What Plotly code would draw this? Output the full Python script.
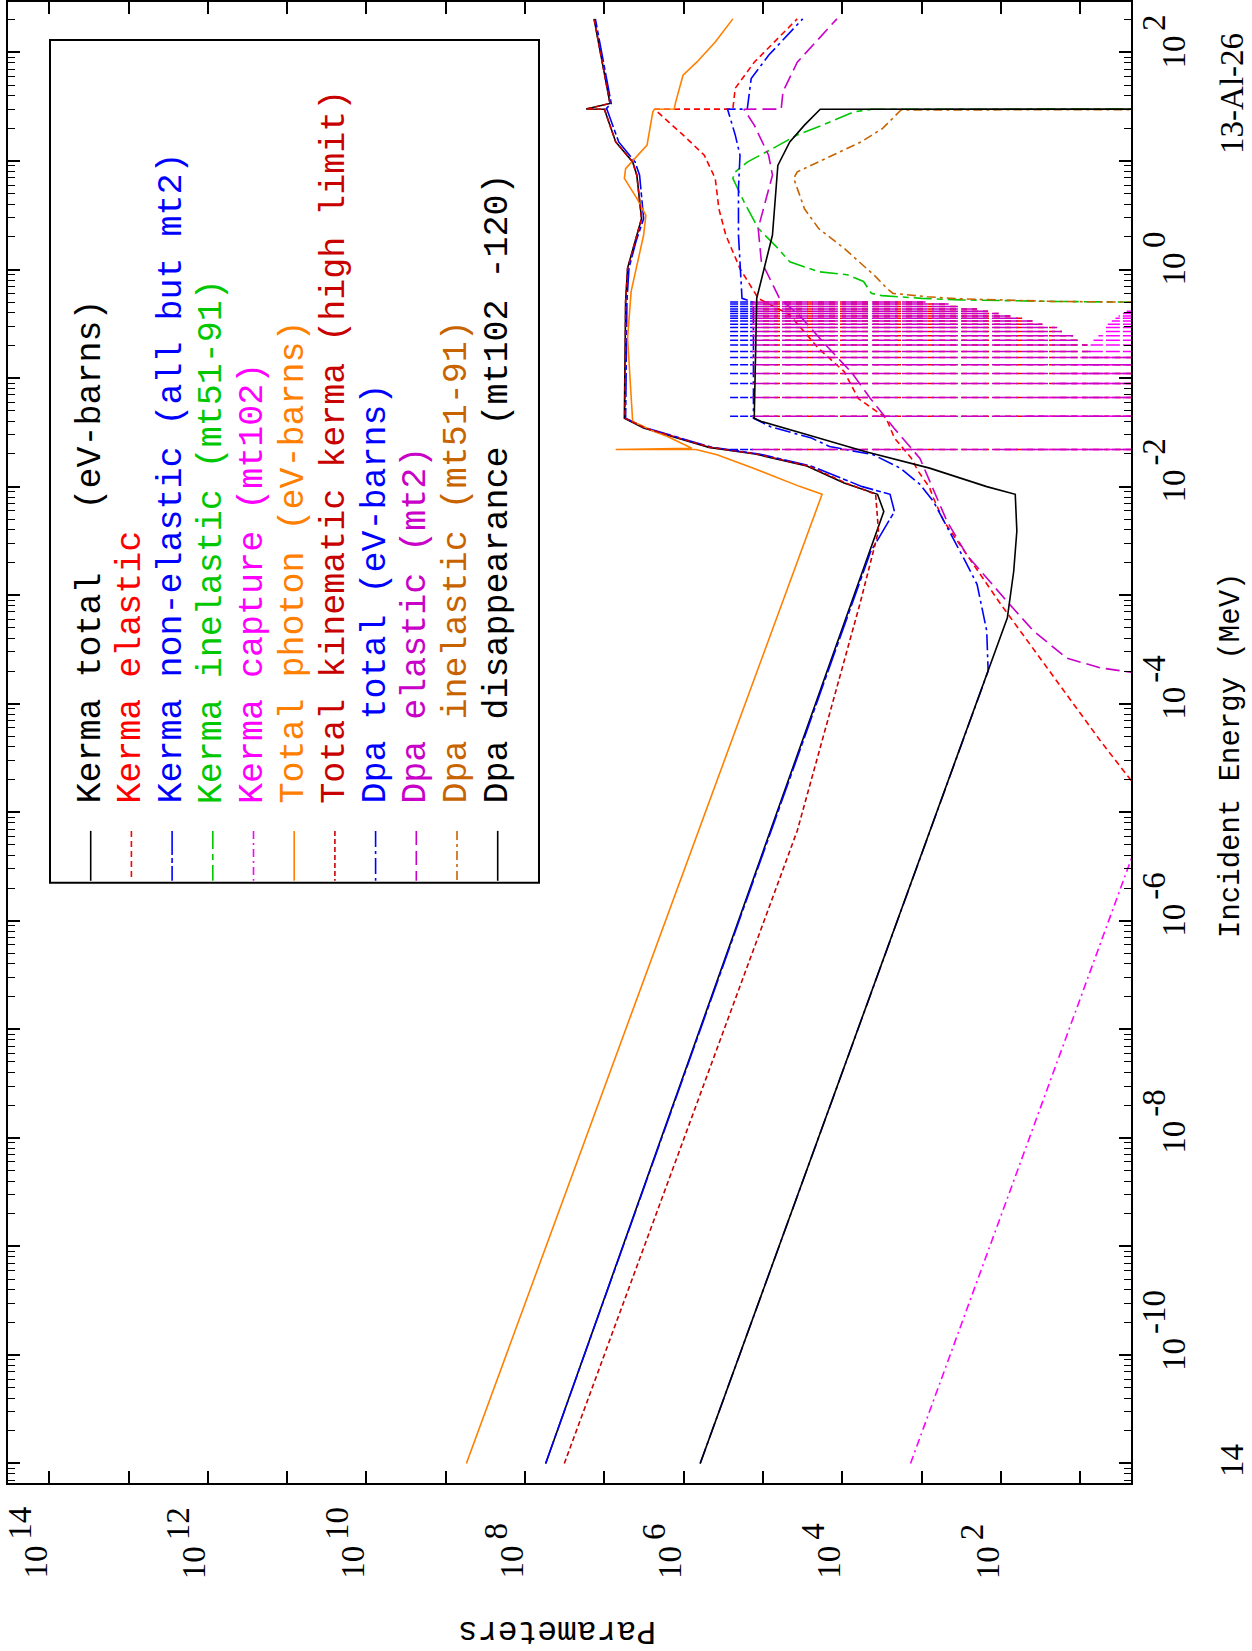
import plotly.graph_objects as go

# ---------------- data (energy in MeV, parameter values) ----------------
E_kerma_total = [1e-11, 5.9e-3, 8.5e-3, 1.08e-2, 1.55e-2, 2.0e-2, 2.3e-2, 3.47e-2, 4.27e-2, 0.507, 1.03, 1.81, 2.95, 7.4, 9.8, 15.0, 30.0, 30.1, 33.9, 204]
V_kerma_total = [5.5e7, 3.0e3, 3.6e3, 9.5e3, 2.8e4, 1.26e5, 4.8e5, 3.2e6, 5.6e6, 5.4e6, 5.1e6, 4.1e6, 3.4e6, 3.9e6, 4.4e6, 7.2e6, 1.0e7, 1.7e7, 8.5e6, 1.35e7]

E_kerma_elastic = [1e-5, 4.57e-5, 8.2e-4, 4.8e-3, 7.85e-3, 9.8e-3, 1.38e-2, 1.83e-2, 2.8e-2, 4.27e-2, 6.5e-2, 0.115, 0.188, 0.382, 0.543, 1.02, 2.08, 3.63, 6.9, 11.3, 17.4, 30.0, 30.1, 46.8, 81.3, 204]
V_kerma_elastic = [1.12, 5.6, 100, 525, 710, 794, 1.1e3, 1.35e3, 2.2e3, 2.8e3, 6.3e3, 9.5e3, 2.0e4, 4.6e4, 1.15e5, 1.95e5, 2.95e5, 3.6e5, 4.0e5, 5.5e5, 1.02e6, 2.34e6, 2.4e5, 2.24e5, 1.29e5, 3.7e4]

E_kerma_nonel = [1e-11, 2.51e-3, 5.9e-3, 8.5e-3, 1.0e-2, 1.55e-2, 2.0e-2, 2.3e-2, 3.47e-2, 4.27e-2, 0.507, 1.03, 1.81, 2.95, 7.4, 9.8, 15.0, 30.0, 30.1, 33.9, 204]
V_kerma_nonel = [5.5e7, 4.4e3, 2.2e3, 2.5e3, 5.6e3, 2.5e4, 1.12e5, 4.4e5, 3.0e6, 5.4e6, 5.2e6, 4.9e6, 4.0e6, 3.2e6, 3.6e6, 4.1e6, 6.6e6, 9.3e6, 9.6e6, 8.2e6, 1.3e7]

E_kerma_inel = [0.501, 0.508, 0.525, 0.543, 0.575, 0.603, 0.776, 0.897, 0.955, 1.18, 1.57, 2.40, 4.22, 6.92, 7.94, 9.77, 13.0, 17.4, 21.4, 28.4, 30.0, 30.1]
V_kerma_inel = [2.0, 20, 316, 1.0e3, 3.16e3, 4.3e3, 5.4e3, 8.7e3, 2.0e4, 4.6e4, 6.5e4, 1.15e5, 1.74e5, 2.4e5, 2.24e5, 1.58e5, 7.6e4, 3.7e4, 1.78e4, 7.1e3, 4.2e3, 1e-3]

E_kerma_capture = [1e-11, 3.16e-5]
V_kerma_capture = [1.38e3, 0.78]

E_photon = [1e-11, 8.5e-3, 1.0e-2, 1.48e-2, 1.97e-2, 2.16e-2, 2.20e-2, 2.20e-2, 2.26e-2, 2.9e-2, 3.24e-2, 3.98e-2, 6.5e-2, 0.233, 0.63, 2.08, 3.16, 4.52, 6.92, 8.51, 14.0, 28.4, 30.0, 30.1, 35.1, 61.7, 81.8, 125, 204]
V_photon = [5.5e8, 1.8e4, 3.4e4, 1.32e5, 3.8e5, 6.8e5, 7.0e5, 7.2e6, 7.9e5, 1.6e6, 2.4e6, 4.4e6, 4.6e6, 5.1e6, 4.6e6, 3.2e6, 3.0e6, 3.9e6, 5.6e6, 5.4e6, 2.9e6, 2.45e6, 2.34e6, 1.32e6, 1.26e6, 1.02e6, 6.8e5, 4.0e5, 2.4e5]

E_kinematic = [1e-11, 6.76e-6, 8.3e-4, 3.9e-3, 8.5e-3, 1.08e-2, 1.55e-2, 2.0e-2, 2.3e-2, 3.47e-2, 4.27e-2, 0.507, 1.03, 1.81, 2.95, 7.4, 9.8, 15.0, 30.0, 30.1, 33.9, 204]
V_kinematic = [3.2e7, 3.7e4, 6.0e3, 3.5e3, 3.8e3, 9.0e3, 2.7e4, 1.2e5, 4.6e5, 3.1e6, 5.5e6, 5.4e6, 5.1e6, 4.1e6, 3.4e6, 3.9e6, 4.4e6, 7.2e6, 1.0e7, 1.7e7, 8.5e6, 1.35e7]

E_dpa_total = [1e-11, 2.0e-4, 4.68e-4, 1.26e-3, 2.19e-3, 7.3e-3, 1.05e-2, 1.48e-2, 1.97e-2, 2.34e-2, 2.8e-2, 3.55e-2, 4.27e-2, 0.50, 0.543, 2.08, 5.62, 11.3, 17.4, 30.0, 30.1, 57.5, 94.2, 204]
V_dpa_total = [6.2e5, 145, 151, 200, 295, 710, 1.05e3, 1.86e3, 4.1e3, 1.45e4, 2.45e4, 7.9e4, 1.32e5, 1.32e5, 1.84e5, 2.04e5, 2.04e5, 1.95e5, 2.24e5, 2.8e5, 1.58e5, 1.41e5, 8.5e4, 3.16e4]

E_dpa_elastic = [1.58e-4, 1.9e-4, 2.14e-4, 2.63e-4, 4.68e-4, 8.7e-4, 2.34e-3, 4.8e-3, 8.5e-3, 1.82e-2, 3.47e-2, 6.6e-2, 0.112, 0.19, 0.38, 0.543, 1.19, 2.4, 7.4, 11.3, 21.4, 30.0, 30.1, 43.6, 81.3, 204]
V_dpa_elastic = [0.32, 2.0, 5.6, 14.8, 38.9, 83, 269, 479, 676, 1.05e3, 2.24e3, 4.5e3, 7.6e3, 1.5e4, 3.5e4, 6.2e4, 1.05e5, 1.15e5, 7.6e4, 8.5e4, 1.29e5, 1.74e5, 5.9e4, 5.6e4, 3.7e4, 1.17e4]

E_dpa_inel = [0.501, 0.508, 0.537, 0.562, 0.603, 0.649, 0.746, 0.861, 1.57, 2.40, 3.63, 6.92, 7.94, 10.5, 15.0, 20.0, 29.5, 30.1]
V_dpa_inel = [2.0, 20, 324, 851, 2.3e3, 2.6e3, 3.16e3, 3.8e3, 9.5e3, 2.0e4, 3.0e4, 4.1e4, 3.7e4, 1.62e4, 5.8e3, 3.1e3, 1.82e3, 1e-3]

E_dpa_disapp = [1e-11, 2.0e-4, 6.2e-4, 1.66e-3, 3.9e-3, 8.5e-3, 1.0e-2, 1.48e-2, 2.11e-2, 3.0e-2, 3.98e-2, 4.27e-2, 0.543, 2.08, 9.1, 15.0, 21.4, 30.0, 30.1]
V_dpa_disapp = [6.2e5, 143, 83, 69, 63, 66, 151, 794, 5.2e3, 2.75e4, 1.05e5, 1.29e5, 1.2e5, 7.6e4, 6.5e4, 4.6e4, 3.0e4, 1.9e4, 1e-3]

# resolved-resonance structure (energies of the resonance lines)
RES_E = [0.501, 0.481, 0.456, 0.434, 0.413, 0.394, 0.374, 0.355, 0.336, 0.314, 0.292, 0.268, 0.245, 0.223, 0.2015, 0.176, 0.155, 0.133, 0.110, 0.0891, 0.0663, 0.0444, 0.0220]
RES_DIP = [891, 457, 324, 200, 145, 107, 76, 54, 40, 30, 19.5, 17, 12.3, 10, 8.1, 7.4, 0.1, 0.1, 0.1, 0.1, 0.1, 0.1, 0.1]
RES_CAP_PEAK = [1, 1, 1, 1, 2.6, 2.9, 3.3, 3.6, 4.0, 4.5, 4.8, 5.2, 5.9, 6.8, 7.4, 8.1, 10, 12, 15, 20, 30, 50, 100]
RES_CAP_FLOOR = 0.1
RES_DPA_EL_PEAK = 1.38e5
RES_KERMA_EL_PEAK = 1.0e5
RES_DPA_TOT_PEAK = 2.6e5
RES_DPA_TOT_BASE = 1.32e5

LEGEND_LABELS = [
    "Kerma total   (eV-barns)",
    "Kerma elastic",
    "Kerma non-elastic (all but mt2)",
    "Kerma inelastic (mt51-91)",
    "Kerma capture (mt102)",
    "Total photon (eV-barns)",
    "Total kinematic kerma (high limit)",
    "Dpa total (eV-barns)",
    "Dpa elastic (mt2)",
    "Dpa inelastic (mt51-91)",
    "Dpa disappearance (mt102 -120)",
]
COLORS = ["#000000", "#ff0000", "#0000ff", "#00c800", "#ff00ff", "#ff8000",
          "#c80000", "#0000ff", "#c800c8", "#c86400", "#000000"]
DASHES = ["solid", "6px,4px", "24px,3px,5px,3px", "18px,5px,6px,5px", "8px,4px,2px,4px",
          "solid", "5px,3px", "16px,4px,3px,4px", "14px,6px", "9px,4px,3px,4px", "solid"]

X_TICK_EXP = list(range(1, 15))
X_LABEL_EXP = [14, 12, 10, 8, 6, 4, 2]
Y_TICK_EXP = list(range(-11, 3))
Y_LABEL_EXP = [2, 0, -2, -4, -6, -8, -10]


def segs(peaks, ends):
    xs, ys = [], []
    for e, a, b in zip(RES_E, peaks, ends):
        xs += [a, b, None]
        ys += [e, e, None]
    return xs, ys


n = len(RES_E)
seg_dpa_el = segs([RES_DPA_EL_PEAK] * n, RES_DIP)
seg_kel = segs([RES_KERMA_EL_PEAK] * n, RES_DIP)
seg_dpa_tot = segs([RES_DPA_TOT_PEAK] * n, [RES_DPA_TOT_BASE] * n)
seg_cap = segs([RES_CAP_FLOOR] * n, RES_CAP_PEAK)

series = [
    (E_kerma_total, V_kerma_total, None, None),
    (E_kerma_elastic, V_kerma_elastic, seg_kel, "6px,5px"),
    (E_kerma_nonel, V_kerma_nonel, None, None),
    (E_kerma_inel, V_kerma_inel, None, None),
    (E_kerma_capture, V_kerma_capture, seg_cap, "14px,3px"),
    (E_photon, V_photon, None, None),
    (E_kinematic, V_kinematic, None, None),
    (E_dpa_total, V_dpa_total, seg_dpa_tot, "8px,2px"),
    (E_dpa_elastic, V_dpa_elastic, seg_dpa_el, "26px,4px"),
    (E_dpa_inel, V_dpa_inel, None, None),
    (E_dpa_disapp, V_dpa_disapp, None, None),
]

fig = go.Figure()
for (E, V, sg, sgdash), col, dash, name in zip(series, COLORS, DASHES, LEGEND_LABELS):
    fig.add_trace(go.Scatter(x=V, y=E, mode="lines", name=name,
                             line=dict(color=col, width=1.6, dash=dash), hoverinfo="skip"))
    if sg is not None:
        fig.add_trace(go.Scatter(x=sg[0], y=sg[1], mode="lines", name=name + " (resonances)",
                                 line=dict(color=col, width=1.5, dash=sgdash),
                                 connectgaps=False, hoverinfo="skip"))

# plot area in pixels: x 8..1131, y 0..1483
PX0, PX1, PY0, PY1 = 8, 1131, 0, 1483


def px(X):
    return (X - PX0) / (PX1 - PX0)


def py(Y):
    return 1 - (Y - PY0) / (PY1 - PY0)


axis_common = dict(type="log", showgrid=False, zeroline=False, showline=True, linecolor="black",
                   linewidth=2, mirror="ticks", ticks="inside", ticklen=12, tickwidth=1.5,
                   tickcolor="black", showticklabels=False)

fig.update_layout(
    width=1252, height=1651,
    margin=dict(l=PX0, r=1252 - PX1, t=PY0, b=1651 - PY1),
    plot_bgcolor="white", paper_bgcolor="white", showlegend=False,
    xaxis=dict(range=[14.52, 0.36], tickvals=[10.0 ** k for k in X_TICK_EXP], **axis_common),
    yaxis=dict(range=[-11.18, 2.465], side="right", tickvals=[10.0 ** k for k in Y_TICK_EXP],
               minor=dict(ticks="inside", ticklen=7, tickwidth=1.2, tickcolor="black",
                          tickvals=[m * 10.0 ** k for k in range(-12, 3) for m in range(2, 10)]),
               **axis_common),
)

TICKFONT = dict(family="Liberation Serif", size=33, color="black")
MONO = "Liberation Mono"

annotations = []
# tick labels of the parameter axis (bottom)
for k in X_LABEL_EXP:
    annotations.append(dict(text="10", xref="x", x=k, yref="paper", y=py(1581), xanchor="center",
                            yanchor="bottom", xshift=-13, textangle=-90, showarrow=False, font=TICKFONT))
    annotations.append(dict(text=str(k), xref="x", x=k, yref="paper", y=py(1541), xanchor="center",
                            yanchor="bottom", xshift=-29, textangle=-90, showarrow=False, font=TICKFONT,
                            borderpad=0))
# tick labels of the energy axis (right)
for k in Y_LABEL_EXP:
    annotations.append(dict(text="10", xref="paper", x=px(1174), yref="y", y=k, xanchor="center",
                            yanchor="middle", textangle=-90, showarrow=False, font=TICKFONT))
    annotations.append(dict(text=str(k), xref="paper", x=px(1154), yref="y", y=k, xanchor="center",
                            yanchor="bottom", yshift=19, textangle=-90, showarrow=False, font=TICKFONT))

# legend box, samples and labels
shapes = [dict(type="rect", xref="paper", yref="paper", x0=px(50), x1=px(539), y0=py(882), y1=py(38),
               line=dict(color="black", width=2), fillcolor="rgba(0,0,0,0)")]
for i, (lab, col, dash) in enumerate(zip(LEGEND_LABELS, COLORS, DASHES)):
    xc = 90.7 + 40.7 * i
    shapes.append(dict(type="line", xref="paper", yref="paper", x0=px(xc), x1=px(xc),
                       y0=py(830), y1=py(880), line=dict(color=col, width=1.6, dash=dash)))
    annotations.append(dict(text=lab, xref="paper", yref="paper", x=px(xc), y=py(805),
                            xanchor="center", yanchor="bottom", textangle=-90, showarrow=False,
                            font=dict(family=MONO, size=35, color=col)))

annotations.append(dict(text="Incident Energy (MeV)", xref="paper", yref="paper", x=px(1232), y=py(755),
                        xanchor="center", yanchor="middle", textangle=-90, showarrow=False,
                        font=dict(family=MONO, size=29, color="black")))
annotations.append(dict(text="13-Al-26", xref="paper", yref="paper", x=px(1232), y=py(92),
                        xanchor="center", yanchor="middle", textangle=-90, showarrow=False,
                        font=TICKFONT))
annotations.append(dict(text="14", xref="paper", yref="paper", x=px(1232), y=py(1461),
                        xanchor="center", yanchor="middle", textangle=-90, showarrow=False,
                        font=TICKFONT))
annotations.append(dict(text="Parameters", xref="paper", yref="paper", x=px(557), y=py(1630),
                        xanchor="center", yanchor="middle", textangle=180, showarrow=False,
                        font=dict(family=MONO, size=33, color="black")))

fig.update_layout(shapes=shapes, annotations=annotations)
fig.write_html("out.html", config={"displayModeBar": False},
               post_script="document.body.style.margin='0';document.body.style.overflow='hidden';")
